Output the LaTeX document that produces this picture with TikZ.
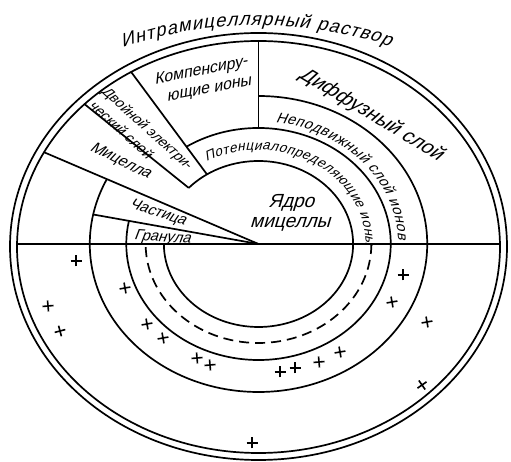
\documentclass[tikz,border=0pt]{standalone}
\usepackage{fontspec}
\setmainfont{Liberation Sans}
\newfontfamily\labfont{Liberation Sans}[FakeSlant=0.3]
\usetikzlibrary{decorations.text}
\newcommand\myfs[1]{\labfont\fontsize{#1}{#1}\selectfont}
\begin{document}
\begin{tikzpicture}[x=1pt,y=1pt,
  ln/.style={line width=1.7pt},
  lbl/.style={inner sep=0pt},
  plusmark/.pic={\draw[line width=1.6pt] (-5.5,0)--(5.5,0) (0,-5.5)--(0,5.5);}
]
\useasboundingbox (0,0) rectangle (511,462);
\fill[white] (0,0) rectangle (511,462);
% outer double ellipse
\draw[ln] (258.5,215.5) ellipse[x radius=248.5, y radius=213.5];
\draw[ln] (258.5,215) ellipse[x radius=241.5, y radius=206];

\begin{scope}[shift={(258.5,218)}, xscale=1.14]
  \coordinate (O) at (0,0);
  \begin{scope}
    \clip (0,-3) ellipse[x radius=211.8, y radius=206];
    \draw[ln] (180:240) -- (0:240);
    \draw[ln] (O) -- (154:240);
    \draw[ln] (137.5:83) -- (137.5:240);
    \draw[ln] (123:83) -- (123:240);
    \draw[ln] (90:116) -- (90:240);
  \end{scope}
  \draw[ln] (O) -- (168.5:148);
  \draw[ln] (137.5:83) arc[start angle=137.5, end angle=-180, radius=83];
  \draw[ln, dash pattern=on 10pt off 6pt] (0:99) arc[start angle=0, end angle=-180, radius=99];
  \draw[ln] (123:116) arc[start angle=123, end angle=-191.5, radius=116];
  \draw[ln] (90:148) arc[start angle=90, end angle=-206, radius=148];
\end{scope}

% curved texts
\path[decorate, decoration={text along path, text align={fit to path},
   text={|\myfs{18.5}|Интрамицеллярный раствор}}]
  ([shift={(258.5,215.5)}]116:310 and 221) arc[start angle=116, end angle=65, x radius=310, y radius=221];
\path[decorate, decoration={text along path, text align={fit to path},
   text={|\myfs{14.5}|Неподвижный слой ионов}}]
  ([shift={(258.5,218)}]83:139.6 and 122.5) arc[start angle=83, end angle=2, x radius=139.6, y radius=122.5];
\path[decorate, decoration={text along path, text align={fit to path},
   text={|\myfs{13.5}|Потенциалопределяющие ионы}}]
  ([shift={(258.5,218)}]119:107 and 94) arc[start angle=119, end angle=-1, x radius=107, y radius=94];

% straight labels
\node[lbl, font=\myfs{20}, rotate=-31] (dif) at (371,347.5) {Диффузный слой};
\node[lbl, font=\myfs{19}, anchor=base] (core1) at (291,254) {Ядро};
\node[lbl, font=\myfs{19}, anchor=base] (core2) at (290,234) {мицеллы};
\node[lbl, font=\myfs{16}, anchor=base, rotate=11] (comp1) at (201.5,387) {Компенсиру-};
\node[lbl, font=\myfs{16}, anchor=base, rotate=11] (comp2) at (209.5,369) {ющие ионы};
\node[lbl, font=\myfs{14}, anchor=base west, rotate=-42] (dl1) at (101,369.5) {Двойной электри-};
\node[lbl, font=\myfs{14}, anchor=base west, rotate=-42] (dl2) at (88,355.5) {ческий слой};
\node[lbl, font=\myfs{15.5}, anchor=base, rotate=-26] (mic) at (118.5,297.5) {Мицелла};
\node[lbl, font=\myfs{15}, anchor=base, rotate=-18] (part) at (156.5,245.5) {Частица};
\node[lbl, font=\myfs{15}, anchor=base, rotate=-4] (gran) at (162,220.5) {Гранула};

% plus signs (pixel y converted: Y = 462 - y)
\foreach \px/\py/\r in {76/261/0, 125/288/10, 48/306/5, 60/331/15, 147/324/10,
   163/338/10, 197/358/5, 210/365/5, 280/372/0, 295/368/0, 319/362/5, 340/352/10,
   403/275/0, 392/302/10, 427/322/10, 422/385/35, 252/443/0}
  \pic[rotate=\r] at (\px,462-\py) {plusmark};
\end{tikzpicture}
\end{document}
